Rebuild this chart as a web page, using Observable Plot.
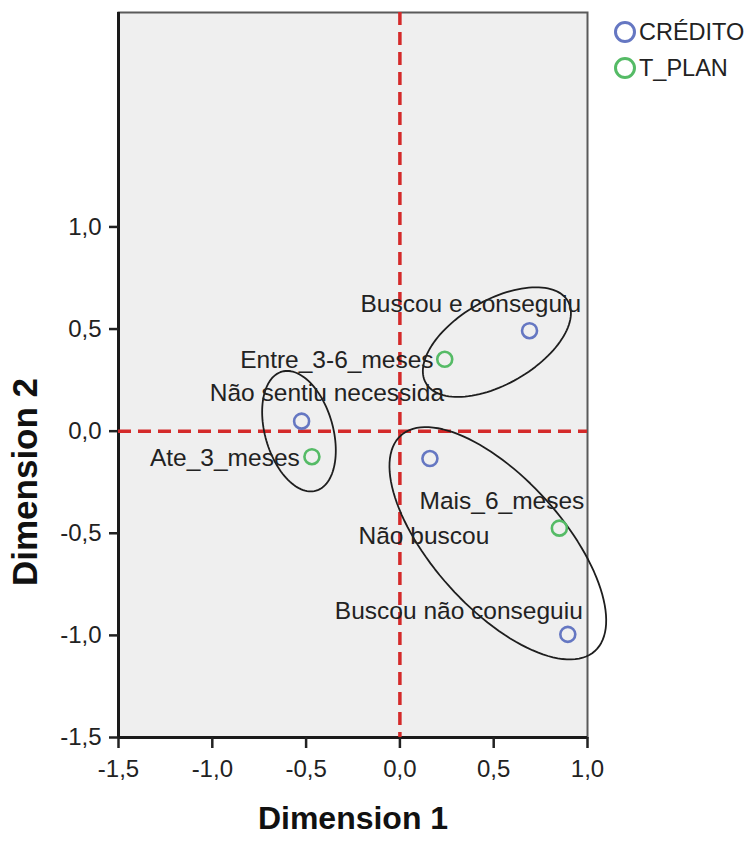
<!DOCTYPE html>
<html>
<head>
<meta charset="utf-8">
<script src="https://cdn.jsdelivr.net/npm/d3@7"></script>
<script src="https://cdn.jsdelivr.net/npm/@observablehq/plot@0.6"></script>
<style>
  html, body { margin: 0; padding: 0; background: #ffffff; }
  #wrap { position: relative; width: 747px; height: 843px; font-family: "Liberation Sans", Arial, sans-serif; }
  #legend { position: absolute; left: 614px; top: 14px; font-size: 23.5px; color: #222; line-height: 36px; }
  #legend .item { display: flex; align-items: center; }
  #legend .sw { display: inline-block; width: 16px; height: 16px; border-radius: 50%; border: 3px solid; margin-right: 3px; box-sizing: content-box; }
</style>
</head>
<body>
<div id="wrap"><div id="legend"></div></div>
<script>
// ---- data ----
const seriesNames = ["CRÉDITO", "T_PLAN"];
const seriesColors = ["#6577c2", "#55bb66"];

const creditoLabels = ["Não sentiu necessida", "Buscou e conseguiu", "Não buscou", "Buscou não conseguiu"];
const creditoDim1 = [-0.524, 0.691, 0.160, 0.895];
const creditoDim2 = [0.049, 0.492, -0.134, -0.995];

const tplanLabels = ["Ate_3_meses", "Entre_3-6_meses", "Mais_6_meses"];
const tplanDim1 = [-0.469, 0.239, 0.850];
const tplanDim2 = [-0.125, 0.352, -0.475];

// label anchor points (data units, centred text)
const labelTexts = ["Buscou e conseguiu", "Entre_3-6_meses", "Não sentiu necessida", "Ate_3_meses", "Mais_6_meses", "Não buscou", "Buscou não conseguiu"];
const labelDim1 = [0.378, -0.336, -0.389, -0.933, 0.544, 0.128, 0.314];
const labelDim2 = [0.623, 0.348, 0.186, -0.132, -0.343, -0.515, -0.882];

// grouping ellipses: centre, semi-axes (dimension-1 units), angle (deg)
const ellipseCx = [-0.538, 0.517, 0.522];
const ellipseCy = [0.000, 0.436, -0.549];
const ellipseA = [0.330, 0.437, 0.773];
const ellipseB = [0.181, 0.224, 0.346];
const ellipseAngle = [-74, 30, -48];

const xDomain = [-1.5, 1.0];
const yDomain = [-1.5, 2.05];
const xTicks = [-1.5, -1.0, -0.5, 0.0, 0.5, 1.0];
const yTicks = [-1.5, -1.0, -0.5, 0.0, 0.5, 1.0];

// ---- build tables ----
const points = [
  ...creditoLabels.map((l, i) => ({label: l, d1: creditoDim1[i], d2: creditoDim2[i], series: seriesNames[0]})),
  ...tplanLabels.map((l, i) => ({label: l, d1: tplanDim1[i], d2: tplanDim2[i], series: seriesNames[1]}))
];
const labels = labelTexts.map((t, i) => ({t, d1: labelDim1[i], d2: labelDim2[i]}));

const W = 747, H = 843, mL = 118, mR = 160, mT = 12, mB = 106;
// aspect: converts dimension-1 units into dimension-2 units so the ellipse shape is kept on screen
const kx = (W - mL - mR) / (xDomain[1] - xDomain[0]);
const ky = (H - mT - mB) / (yDomain[1] - yDomain[0]);
const ellipsePts = [];
ellipseCx.forEach((cx, e) => {
  const th = ellipseAngle[e] * Math.PI / 180;
  for (let s = 0; s <= 120; s++) {
    const t = s / 120 * 2 * Math.PI;
    const dx = ellipseA[e] * Math.cos(t) * Math.cos(th) - ellipseB[e] * Math.sin(t) * Math.sin(th);
    const dy = ellipseA[e] * Math.cos(t) * Math.sin(th) + ellipseB[e] * Math.sin(t) * Math.cos(th);
    ellipsePts.push({e, d1: cx + dx, d2: ellipseCy[e] + dy * kx / ky});
  }
});

const fmt = v => v.toFixed(1).replace(".", ",");

const chart = Plot.plot({
  width: W, height: H,
  marginLeft: mL, marginRight: mR, marginTop: mT, marginBottom: mB,
  style: {fontFamily: "'Liberation Sans', Arial, sans-serif", background: "transparent", overflow: "visible"},
  x: {domain: xDomain},
  y: {domain: yDomain},
  color: {domain: seriesNames, range: seriesColors},
  marks: [
    Plot.frame({fill: "#efefef", stroke: "#5a5a5a", strokeWidth: 2}),
    Plot.ruleX([xDomain[0]], {stroke: "#1a1a1a", strokeWidth: 3}),
    Plot.ruleY([yDomain[0]], {stroke: "#1a1a1a", strokeWidth: 3}),
    Plot.ruleX([0], {stroke: "#d42a2a", strokeWidth: 3.5, strokeDasharray: "13,7"}),
    Plot.ruleY([0], {stroke: "#d42a2a", strokeWidth: 3.5, strokeDasharray: "13,7"}),
    Plot.line(ellipsePts, {x: "d1", y: "d2", z: "e", stroke: "#1e1e1e", strokeWidth: 1.8, curve: "linear"}),
    Plot.dot(points, {x: "d1", y: "d2", stroke: "series", r: 7.5, strokeWidth: 2.6, fill: "none"}),
    Plot.text(labels, {x: "d1", y: "d2", text: "t", fontSize: 24.5, fill: "#222", textAnchor: "middle"}),
    Plot.axisX({ticks: xTicks, tickFormat: fmt, tickSize: 11, tickPadding: 11, fontSize: 24, color: "#222", strokeWidth: 2.5, label: null}),
    Plot.axisY({ticks: yTicks, tickFormat: fmt, tickSize: 9, tickPadding: 8, fontSize: 24, color: "#222", strokeWidth: 2.5, label: null}),
    Plot.text(["Dimension 1"], {frameAnchor: "bottom", dy: 91, fontSize: 32, fontWeight: "bold", fill: "#111"}),
    Plot.text(["Dimension 2"], {frameAnchor: "left", textAnchor: "middle", dx: -93, dy: 107, rotate: -90, fontSize: 35, fontWeight: "bold", fill: "#111"})
  ]
});
document.getElementById("wrap").prepend(chart);

const legend = document.getElementById("legend");
seriesNames.forEach((n, i) => {
  const item = document.createElement("div");
  item.className = "item";
  const sw = document.createElement("span");
  sw.className = "sw";
  sw.style.borderColor = seriesColors[i];
  item.appendChild(sw);
  item.appendChild(document.createTextNode(n));
  legend.appendChild(item);
});
</script>
</body>
</html>
